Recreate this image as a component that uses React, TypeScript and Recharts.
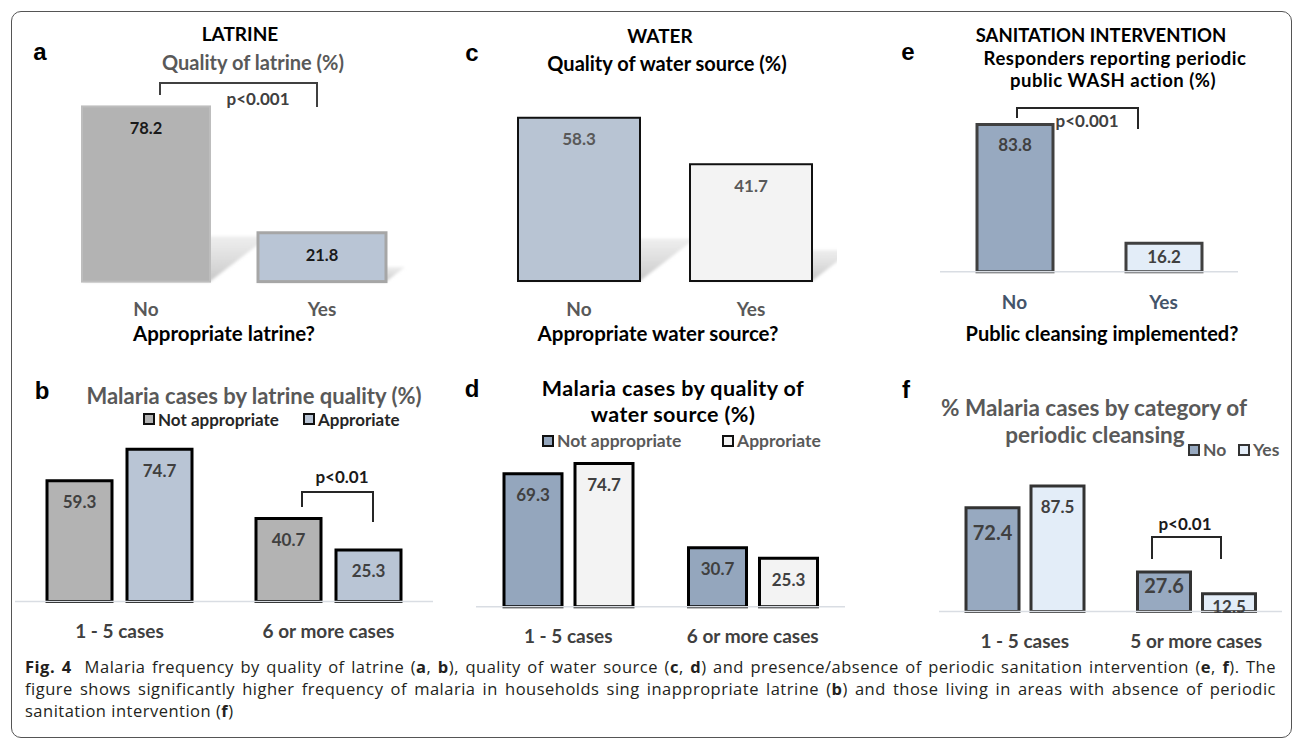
import React from 'react';
import { BarChart, Bar, XAxis, YAxis, Cell, LabelList } from 'recharts';

const FONT = 'Lato, "Open Sans", sans-serif';
const LETTER_FONT = 'Arial, "Liberation Sans", sans-serif';

// ---- Panel a: quality of latrine (%)
const latrineCategories = ['No', 'Yes'];
const latrineValues = [78.2, 21.8];
// ---- Panel c: quality of water source (%)
const waterCategories = ['No', 'Yes'];
const waterValues = [58.3, 41.7];
// ---- Panel e: periodic public WASH action (%)
const cleansingCategories = ['No', 'Yes'];
const cleansingValues = [83.8, 16.2];
// ---- Panel b: malaria cases by latrine quality (%)
const latrineCaseCategories = ['1 - 5 cases', '6 or more cases'];
const latrineSeriesNames = ['Not appropriate', 'Approriate'];
const latrineNotAppropriate = [59.3, 40.7];
const latrineAppropriate = [74.7, 25.3];
// ---- Panel d: malaria cases by quality of water source (%)
const waterCaseCategories = ['1 - 5 cases', '6 or more cases'];
const waterSeriesNames = ['Not appropriate', 'Approriate'];
const waterNotAppropriate = [69.3, 30.7];
const waterAppropriate = [74.7, 25.3];
// ---- Panel f: malaria cases by category of periodic cleansing
const cleansingCaseCategories = ['1 - 5 cases', '5 or more cases'];
const cleansingSeriesNames = ['No', 'Yes'];
const cleansingNo = [72.4, 27.6];
const cleansingYes = [87.5, 12.5];

const single = (cats: string[], vals: number[]) => cats.map((c, i) => ({ cat: c, value: vals[i] }));
const pair = (cats: string[], a: number[], b: number[]) => cats.map((c, i) => ({ cat: c, s1: a[i], s2: b[i] }));

const dataA = single(latrineCategories, latrineValues);
const dataC = single(waterCategories, waterValues);
const dataE = single(cleansingCategories, cleansingValues);
const dataB = pair(latrineCaseCategories, latrineNotAppropriate, latrineAppropriate);
const dataD = pair(waterCaseCategories, waterNotAppropriate, waterAppropriate);
const dataF = pair(cleansingCaseCategories, cleansingNo, cleansingYes);

function T({ x, y, children, size = 17, weight = 700, color = '#000', family = FONT, anchor = 'middle', lh = 1, ls = 0 }: any) {
  const tx = anchor === 'middle' ? '-50%' : anchor === 'end' ? '-100%' : '0';
  return (
    <div
      style={{
        position: 'absolute', left: x, top: y, transform: `translate(${tx}, -50%)`,
        fontSize: size, fontWeight: weight, color, fontFamily: family, whiteSpace: 'nowrap', lineHeight: lh,
        letterSpacing: ls, textAlign: anchor === 'middle' ? 'center' : 'left',
      }}
    >
      {children}
    </div>
  );
}

const valueLabel = (color: string, size: number, off: number) => (p: any) => {
  const vb = p.viewBox || p;
  const h = Math.abs(vb.height);
  const cy = vb.y + (h < 40 ? 13 : off);
  return (
    <text x={vb.x + vb.width / 2} y={cy} textAnchor="middle" dominantBaseline="central"
      fill={color} fontSize={size} fontWeight={700} fontFamily={FONT}>
      {p.value}
    </text>
  );
};

const shadowBar = (id: string) => (props: any) => {
  const { x, y, width, height, fill, stroke, strokeWidth, index } = props;
  const b = y + height;
  const sh = height * 0.24 + 3;
  const dx = sh * 1.3;
  const gid = `${id}-${index}`;
  return (
    <g>
      <defs>
        <linearGradient id={gid} x1="0" y1="1" x2="0" y2="0">
          <stop offset="0" stopColor="#c4c4c4" stopOpacity={0.95} />
          <stop offset="1" stopColor="#dcdcdc" stopOpacity={0.5} />
        </linearGradient>
        <filter id={gid + 'f'} x="-20%" y="-20%" width="140%" height="140%">
          <feGaussianBlur stdDeviation="1.5" />
        </filter>
      </defs>
      <polygon
        points={`${x},${b} ${x + width},${b} ${x + width + dx},${b - sh} ${x + dx},${b - sh}`}
        fill={`url(#${gid})`} filter={`url(#${gid}f)`}
      />
      <rect x={x} y={y} width={width} height={height} fill={fill} stroke={stroke} strokeWidth={strokeWidth} />
    </g>
  );
};

function PanelChart({ x0, width, yBottom, pxPerUnit, domainMax, data, tickColor, tickMargin, axisColor, barSize, barGap = 4, children }: any) {
  const plotH = domainMax * pxPerUnit;
  const axisH = 50;
  return (
    <div style={{ position: 'absolute', left: x0, top: yBottom - plotH }}>
      <BarChart width={width} height={plotH + axisH} data={data}
        margin={{ top: 0, right: 0, bottom: 0, left: 0 }}
        barSize={barSize} barGap={barGap} barCategoryGap={0}>
        <YAxis hide domain={[0, domainMax]} type="number" />
        <XAxis dataKey="cat" height={axisH} tickLine={false} tickSize={0} tickMargin={tickMargin}
          axisLine={axisColor ? { stroke: axisColor, strokeWidth: 1.5 } : false} interval={0}
          tick={{ fill: tickColor, fontSize: 19, fontWeight: 700, fontFamily: FONT }} />
        {children}
      </BarChart>
    </div>
  );
}

function LegendItem({ x, y, fill, stroke, label, color, size = 17.5, box = 12 }: any) {
  return (
    <>
      <div style={{ position: 'absolute', left: x, top: y - box / 2, width: box, height: box, boxSizing: 'border-box', background: fill, border: `2.5px solid ${stroke}` }} />
      <T x={x + box + 3} y={y} size={size} color={color} anchor="start">{label}</T>
    </>
  );
}

export default function App() {
  const brackets = [
    { d: 'M160,95 L160,83 L317,83 L317,107', c: '#404040' },
    { d: 'M1017,118 L1017,108 L1138,108 L1138,129', c: '#262626' },
    { d: 'M302,507 L302,492 L373,492 L373,522', c: '#262626' },
    { d: 'M1152,559 L1152,537 L1221,537 L1221,559', c: '#262626' },
  ];
  const boldSpan = (s: string) => <b style={{ fontWeight: 700 }}>{s}</b>;
  return (
    <div style={{ position: 'absolute', left: 0, top: 0, width: 1295, height: 740, background: '#fff', overflow: 'hidden', fontFamily: FONT }}>
      <div style={{ position: 'absolute', left: 11, top: 11, width: 1281, height: 727, boxSizing: 'border-box', border: '1.5px solid #555', borderRadius: 10 }} />

      {/* Panel a */}
      <T x={40} y={52} size={24} family={LETTER_FONT}>a</T>
      <T x={240} y={33} size={19}>LATRINE</T>
      <T x={253} y={62} size={20} color="#595959">Quality of latrine (%)</T>
      <PanelChart x0={58} width={352} yBottom={282} pxPerUnit={2.24} domainMax={90} data={dataA}
        tickColor="#595959" tickMargin={21} barSize={128}>
        <Bar dataKey="value" isAnimationActive={false} shape={shadowBar('shA')}>
          <Cell fill="#b3b3b3" stroke="#bdbdbd" strokeWidth={2} />
          <Cell fill="#b9c5d5" stroke="#a6a6a6" strokeWidth={3} />
          <LabelList dataKey="value" content={valueLabel('#1a1a1a', 16.5, 22)} />
        </Bar>
      </PanelChart>
      <T x={224} y={333} size={20.5}>Appropriate latrine?</T>

      {/* Panel c */}
      <T x={472} y={53} size={24} family={LETTER_FONT}>c</T>
      <T x={660} y={35} size={19}>WATER</T>
      <T x={667} y={63} size={20}>Quality of water source (%)</T>
      <PanelChart x0={493} width={344} yBottom={281} pxPerUnit={2.8} domainMax={70} data={dataC}
        tickColor="#595959" tickMargin={22} barSize={122}>
        <Bar dataKey="value" isAnimationActive={false} shape={shadowBar('shC')}>
          <Cell fill="#b8c4d3" stroke="#111" strokeWidth={2} />
          <Cell fill="#f3f3f3" stroke="#111" strokeWidth={2} />
          <LabelList dataKey="value" content={valueLabel('#595959', 17, 21)} />
        </Bar>
      </PanelChart>
      <T x={658} y={333} size={20.5}>Appropriate water source?</T>

      {/* Panel e */}
      <T x={908} y={52} size={24} family={LETTER_FONT}>e</T>
      <T x={1101} y={35} size={18.5}>SANITATION INTERVENTION</T>
      <T x={1115} y={57.5} size={18.5} ls="0.5px">Responders reporting periodic</T>
      <T x={1113} y={80} size={18.5} ls="0.5px">public WASH action (%)</T>
      <PanelChart x0={940} width={298} yBottom={272} pxPerUnit={1.757} domainMax={100} data={dataE}
        tickColor="#44546a" tickMargin={24} axisColor="#d9dde3" barSize={76}>
        <Bar dataKey="value" isAnimationActive={false}>
          <Cell fill="#97a9c0" stroke="#404040" strokeWidth={3} />
          <Cell fill="#e3edf8" stroke="#404040" strokeWidth={3} />
          <LabelList dataKey="value" content={valueLabel('#404040', 17, 20)} />
        </Bar>
      </PanelChart>
      <T x={1102} y={333} size={20}>Public cleansing implemented?</T>

      {/* Panel b */}
      <T x={42} y={391} size={24} family={LETTER_FONT}>b</T>
      <T x={254} y={396} size={22} color="#595959">Malaria cases by latrine quality (%)</T>
      <LegendItem x={143} y={419} fill="#b3b3b3" stroke="#111" label={latrineSeriesNames[0]} color="#262626" size={17} />
      <LegendItem x={303} y={419} fill="#b9c5d5" stroke="#111" label={latrineSeriesNames[1]} color="#262626" size={17} />
      <PanelChart x0={15} width={418} yBottom={602} pxPerUnit={2.04} domainMax={90} data={dataB}
        tickColor="#404040" tickMargin={23} axisColor="#d9dde3" barSize={65} barGap={15}>
        <Bar dataKey="s1" name={latrineSeriesNames[0]} fill="#b3b3b3" stroke="#000" strokeWidth={3} isAnimationActive={false}>
          <LabelList dataKey="s1" content={valueLabel('#404040', 17, 21)} />
        </Bar>
        <Bar dataKey="s2" name={latrineSeriesNames[1]} fill="#b9c5d5" stroke="#000" strokeWidth={3} isAnimationActive={false}>
          <LabelList dataKey="s2" content={valueLabel('#404040', 17, 21)} />
        </Bar>
      </PanelChart>

      {/* Panel d */}
      <T x={472} y={389} size={24} family={LETTER_FONT}>d</T>
      <T x={673} y={389} size={21.5} ls="0.4px">Malaria cases by quality of</T>
      <T x={673} y={415} size={21.5} ls="0.4px">water source (%)</T>
      <LegendItem x={542} y={441} fill="#94a6bd" stroke="#111" label={waterSeriesNames[0]} color="#595959" />
      <LegendItem x={722} y={441} fill="#f3f3f3" stroke="#111" label={waterSeriesNames[1]} color="#595959" />
      <PanelChart x0={476} width={369} yBottom={607} pxPerUnit={1.92} domainMax={90} data={dataD}
        tickColor="#404040" tickMargin={23} axisColor="#d9dde3" barSize={58} barGap={13}>
        <Bar dataKey="s1" name={waterSeriesNames[0]} fill="#94a6bd" stroke="#000" strokeWidth={3} isAnimationActive={false}>
          <LabelList dataKey="s1" content={valueLabel('#404040', 17, 21)} />
        </Bar>
        <Bar dataKey="s2" name={waterSeriesNames[1]} fill="#f3f3f3" stroke="#000" strokeWidth={3} isAnimationActive={false}>
          <LabelList dataKey="s2" content={valueLabel('#404040', 17, 21)} />
        </Bar>
      </PanelChart>

      {/* Panel f */}
      <T x={906} y={390} size={24} family={LETTER_FONT}>f</T>
      <T x={1094} y={408} size={22.5} color="#595959">% Malaria cases by category of</T>
      <T x={1095} y={435} size={22.5} color="#595959">periodic cleansing</T>
      <LegendItem x={1188} y={450} fill="#97a9c0" stroke="#333" label={cleansingSeriesNames[0]} color="#595959" />
      <LegendItem x={1238} y={450} fill="#e3edf8" stroke="#333" label={cleansingSeriesNames[1]} color="#595959" />
      <PanelChart x0={939} width={343} yBottom={612} pxPerUnit={1.436} domainMax={100} data={dataF}
        tickColor="#404040" tickMargin={23} axisColor="#d9dde3" barSize={53} barGap={12}>
        <Bar dataKey="s1" name={cleansingSeriesNames[0]} fill="#97a9c0" stroke="#333" strokeWidth={3} isAnimationActive={false}>
          <LabelList dataKey="s1" content={valueLabel('#404040', 20, 24)} />
        </Bar>
        <Bar dataKey="s2" name={cleansingSeriesNames[1]} fill="#e3edf8" stroke="#333" strokeWidth={3} isAnimationActive={false}>
          <LabelList dataKey="s2" content={valueLabel('#404040', 17, 21)} />
        </Bar>
      </PanelChart>

      {/* significance brackets */}
      <svg width={1295} height={740} style={{ position: 'absolute', left: 0, top: 0, pointerEvents: 'none' }}>
        {brackets.map((b, i) => (
          <path key={i} d={b.d} fill="none" stroke={b.c} strokeWidth={2} />
        ))}
      </svg>
      <T x={258} y={98} size={17} color="#404040">p&lt;0.001</T>
      <T x={1087} y={120} size={17} color="#404040">p&lt;0.001</T>
      <T x={342} y={476} size={17} color="#1a1a1a">p&lt;0.01</T>
      <T x={1185} y={523} size={17} color="#1a1a1a">p&lt;0.01</T>

      {/* caption */}
      <div style={{ position: 'absolute', left: 25, top: 656, width: 1251, fontFamily: '"Open Sans", sans-serif', fontSize: 16.5, letterSpacing: '0.5px', lineHeight: '22px', color: '#231f20' }}>
        <div style={{ textAlign: 'justify', textAlignLast: 'justify' }}>
          {boldSpan('Fig. 4')}&nbsp;&nbsp;Malaria frequency by quality of latrine ({boldSpan('a')}, {boldSpan('b')}), quality of water source ({boldSpan('c')}, {boldSpan('d')}) and presence/absence of periodic sanitation intervention ({boldSpan('e')}, {boldSpan('f')}). The
        </div>
        <div style={{ textAlign: 'justify', textAlignLast: 'justify' }}>
          figure shows significantly higher frequency of malaria in households sing inappropriate latrine ({boldSpan('b')}) and those living in areas with absence of periodic
        </div>
        <div>sanitation intervention ({boldSpan('f')})</div>
      </div>
    </div>
  );
}
